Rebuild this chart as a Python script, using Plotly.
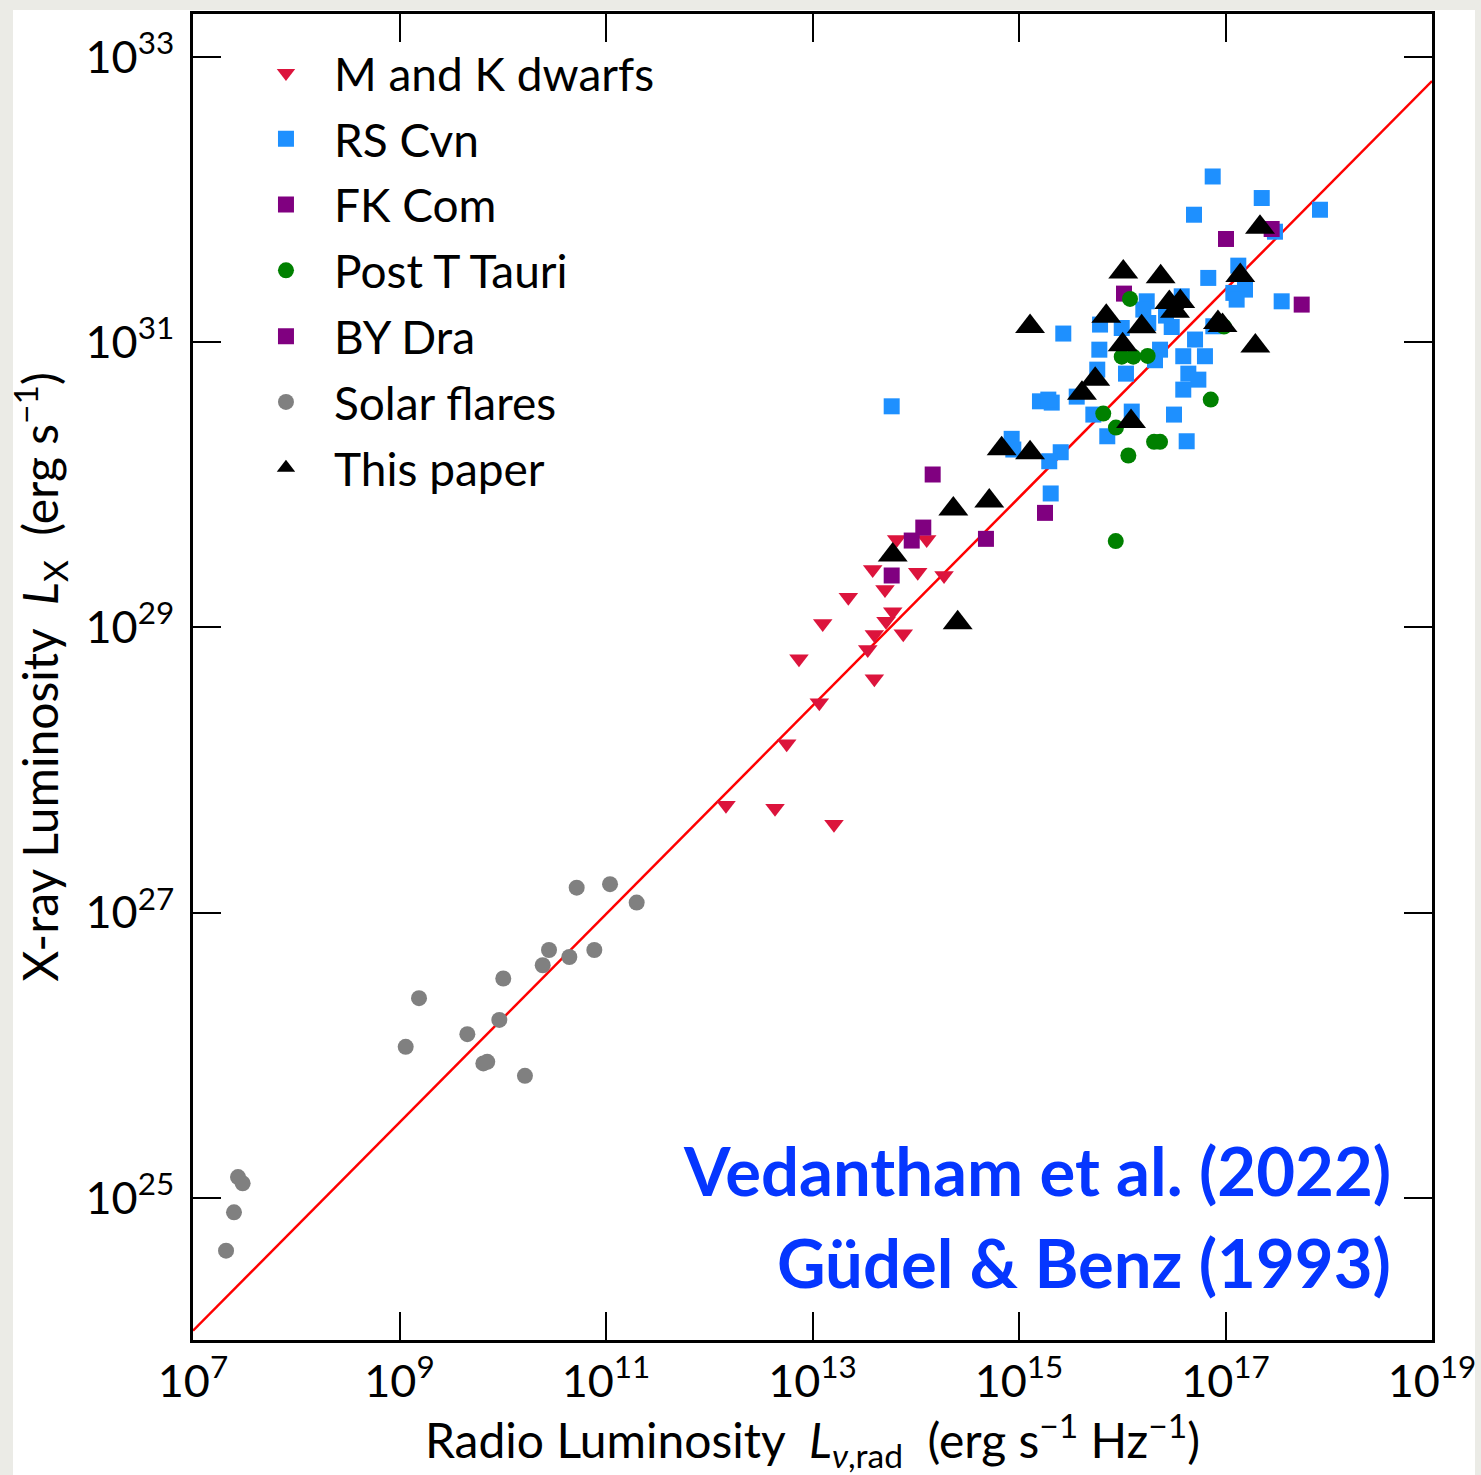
import plotly.graph_objects as go

# ---- data: log10 of radio luminosity (erg/s/Hz) and X-ray luminosity (erg/s) ----
mk_log_lr = [13.815, 14.106, 13.583, 14.019, 14.274, 13.347, 13.702, 13.777, 13.099, 13.712,
             13.599, 13.879, 13.535, 12.869, 13.599, 13.066, 12.750, 12.162, 12.637, 13.208]
mk_log_lx = [29.616, 29.616, 29.406, 29.387, 29.364, 29.212, 29.266, 29.110, 29.028, 29.044,
             28.951, 28.956, 28.846, 28.781, 28.641, 28.472, 28.185, 27.753, 27.732, 27.620]

rs_log_lr = [16.876, 17.351, 16.695, 17.915, 17.479, 17.124, 16.833, 17.076, 17.189, 17.108,
             17.544, 16.237, 16.576, 15.429, 13.767, 15.785, 15.995, 16.252, 16.479, 16.882,
             16.705, 15.778, 16.366, 16.317, 16.591, 16.801, 15.758, 16.036, 16.640, 16.737,
             16.591, 15.203, 15.317, 15.559, 15.720, 16.092, 16.501, 15.855, 16.624, 14.929,
             14.945, 15.404, 15.293, 15.307, 16.204, 16.424, 15.284]
rs_log_lx = [32.161, 32.010, 31.893, 31.928, 31.774, 31.536, 31.450, 31.345, 31.368, 31.298,
             31.286, 31.286, 31.321, 31.060, 30.550, 31.123, 31.099, 31.134, 31.106, 31.111,
             31.018, 30.947, 30.947, 30.873, 30.901, 30.901, 30.807, 30.779, 30.779, 30.737,
             30.667, 30.585, 30.576, 30.618, 30.492, 30.513, 30.492, 30.340, 30.305, 30.322,
             30.247, 30.228, 30.165, 29.939, 31.228, 31.186, 30.597]

fk_log_lr = [16.017, 17.005, 17.447, 17.738]
fk_log_lx = [31.340, 31.723, 31.793, 31.263]

ptt_log_lr = [16.075, 15.995, 16.107, 16.246, 16.985, 16.857, 15.816, 15.939, 16.308, 16.366,
              16.059, 15.937]
ptt_log_lx = [31.303, 30.898, 30.898, 30.903, 31.109, 30.597, 30.499, 30.401, 30.301, 30.301,
              30.205, 29.605]

by_log_lr = [14.164, 14.073, 13.961, 13.767, 14.680, 15.252]
by_log_lx = [30.072, 29.700, 29.609, 29.364, 29.621, 29.803]

sun_log_lr = [7.436, 7.481, 7.397, 7.320, 10.716, 11.039, 11.297, 10.448, 10.387, 10.645,
              10.887, 10.005, 9.189, 9.967, 9.657, 9.060, 9.812, 9.850, 10.215]
sun_log_lx = [25.147, 25.103, 24.900, 24.631, 27.176, 27.200, 27.071, 26.739, 26.632, 26.690,
              26.739, 26.539, 26.401, 26.249, 26.149, 26.060, 25.944, 25.955, 25.857]

this_log_lr = [17.334, 16.010, 16.372, 17.143, 15.107, 15.845, 16.188, 16.456, 16.562, 16.511,
               16.927, 16.971, 16.004, 17.289, 15.738, 15.610, 16.085, 14.832, 15.107, 14.364,
               14.712, 13.777, 14.406]
this_log_lx = [31.806, 31.492, 31.459, 31.467, 31.109, 31.181, 31.107, 31.277, 31.284, 31.217,
               31.137, 31.116, 30.982, 30.972, 30.739, 30.641, 30.443, 30.252, 30.224, 29.831,
               29.886, 29.508, 29.033]

# Guedel-Benz relation, endpoints in log10
gb_log_lr = [7.0, 19.0]
gb_log_lx = [24.07, 32.83]

x_tick_exp = [7, 9, 11, 13, 15, 17, 19]
y_tick_exp = [25, 27, 29, 31, 33]

FONT = "Lato, 'DejaVu Sans', sans-serif"
CREDIT_FONT = "Lato, 'Liberation Sans', sans-serif"


def lin(v):
    return [10.0 ** float(e) for e in v]


fig = go.Figure()

series = [
    ("M and K dwarfs", mk_log_lr, mk_log_lx, "triangle-down", "#dc143c", 17),
    ("RS Cvn", rs_log_lr, rs_log_lx, "square", "#1e90ff", 16),
    ("FK Com", fk_log_lr, fk_log_lx, "square", "#800080", 16),
    ("Post T Tauri", ptt_log_lr, ptt_log_lx, "circle", "#008000", 16),
    ("BY Dra", by_log_lr, by_log_lx, "square", "#800080", 16),
    ("Solar flares", sun_log_lr, sun_log_lx, "circle", "#808080", 16),
]

# relation line drawn first so the markers sit on top of it
fig.add_trace(go.Scatter(
    x=lin(gb_log_lr), y=lin(gb_log_lx), mode="lines",
    line=dict(color="#ff0000", width=2.5), showlegend=False, hoverinfo="skip",
))

for name, lr, lx, sym, col, size in series:
    fig.add_trace(go.Scatter(
        x=lin(lr), y=lin(lx), mode="markers", name=name, legendgroup=name,
        marker=dict(symbol=sym, color=col, size=size, line=dict(width=0)),
    ))

fig.add_trace(go.Scatter(
    x=lin(this_log_lr), y=lin(this_log_lx), mode="markers", name="This paper",
    legendgroup="This paper",
    marker=dict(symbol="triangle-up", color="black", size=26, line=dict(width=0)),
))

axis_common = dict(
    type="log", showgrid=False, zeroline=False, automargin=False,
    showline=True, linecolor="black", linewidth=2.5, mirror="ticks",
    ticks="inside", ticklen=28, tickwidth=2, tickcolor="black",
    tickfont=dict(family=FONT, size=45, color="black"),
)

fig.update_xaxes(
    **axis_common,
    range=[7, 19],
    tickvals=lin(x_tick_exp),
    ticktext=[f"10<sup>{e}</sup>" for e in x_tick_exp],
    title=dict(
        text="Radio Luminosity  <i>L</i><sub><i>ν</i>,rad</sub>  (erg s<sup>−1</sup> Hz<sup>−1</sup>)",
        font=dict(family=FONT, size=48, color="black"), standoff=22,
    ),
)
fig.update_yaxes(
    **axis_common,
    range=[24.005, 33.30],
    tickvals=lin(y_tick_exp),
    ticktext=[f"10<sup>{e}</sup>" for e in y_tick_exp],
    ticklabelstandoff=7,
    title=dict(
        text="X-ray Luminosity  <i>L</i><sub>X</sub>  (erg s<sup>−1</sup>)",
        font=dict(family=FONT, size=48, color="black"), standoff=12,
    ),
)

# literature credit inside the axes
fig.add_annotation(
    xref="paper", yref="paper", x=0.9685, y=0.128, xanchor="right", yanchor="middle",
    text="<b>Vedantham et al. (2022)</b>", showarrow=False,
    font=dict(family=CREDIT_FONT, size=67, color="#0536ff"),
)
fig.add_annotation(
    xref="paper", yref="paper", x=0.9685, y=0.0588, xanchor="right", yanchor="middle",
    text="<b>Güdel &amp; Benz (1993)</b>", showarrow=False,
    font=dict(family=CREDIT_FONT, size=67, color="#0536ff"),
)

# light frame around the white figure area
fig.add_shape(type="rect", xref="paper", yref="paper", layer="below",
              x0=-0.1453, x1=1.0347, y0=-0.1018, y1=1.0030,
              fillcolor="white", line=dict(width=0))

fig.update_layout(
    width=1481, height=1475,
    margin=dict(l=193, r=49, t=14, b=135, autoexpand=False),
    paper_bgcolor="#ebebe6", plot_bgcolor="white",
    font=dict(family=FONT, color="black"),
    showlegend=True,
    legend=dict(
        x=0.0363, y=0.983, xanchor="left", yanchor="top",
        bgcolor="rgba(0,0,0,0)", borderwidth=0,
        font=dict(family=FONT, size=46, color="black"),
        itemwidth=86, tracegroupgap=3, traceorder="grouped",
    ),
)

fig.write_html("out.html")
